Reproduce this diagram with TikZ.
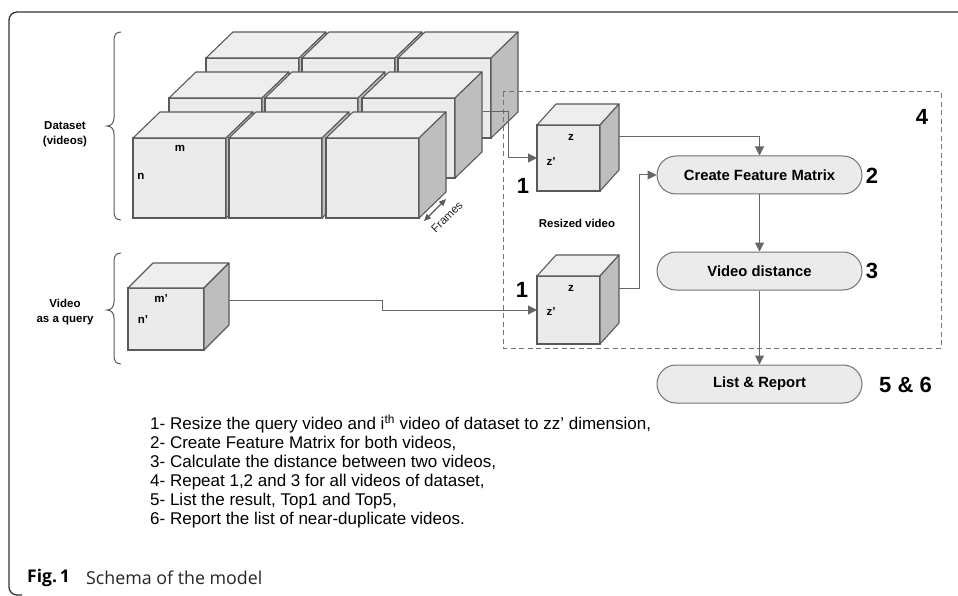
\documentclass[tikz,border=0pt]{standalone}
\usepackage{fontspec}
\setmainfont{Liberation Sans}
\newfontfamily\listfont{Liberation Sans}
\newfontfamily\capfont{Open Sans}
\usetikzlibrary{arrows.meta,calc}

\definecolor{edge}{HTML}{5A5A5A}
\definecolor{facefront}{HTML}{EBEBEB}
\definecolor{facetop}{HTML}{EEEEEE}
\definecolor{faceside}{HTML}{BEBEBE}
\definecolor{wire}{HTML}{666666}

\tikzset{
  cubeface/.style={draw=edge, fill=facefront, line width=1.1pt, inner sep=0pt, outer sep=0pt},
  cubetop/.style={draw=edge, fill=facetop, line width=1.1pt, line join=round},
  cubeside/.style={draw=edge, fill=faceside, line width=1.1pt, line join=round},
  arr/.style={draw=wire, line width=1pt, -{Triangle[length=9pt,width=9pt]}},
  stadium/.style={draw=edge!85, fill=facefront, line width=1pt, rounded corners=19pt,
    minimum width=205pt, minimum height=38pt, inner sep=0pt,
    font=\bfseries\fontsize{14.8}{17}\selectfont},
  tag/.style={font=\bfseries\fontsize{22}{24}\selectfont, inner sep=0pt},
  dimlabel/.style={font=\bfseries\fontsize{11.5}{13}\selectfont, inner sep=0pt},
  sidetext/.style={font=\bfseries\fontsize{11.5}{15}\selectfont, align=center, inner sep=0pt},
  bracepath/.style={draw=edge, line width=1pt},
  listline/.style={anchor=west, inner sep=0pt, font=\listfont\fontsize{17}{19}\selectfont},
}

% video volume: name, x, y (top of front face), width, height, depth dx, depth dy
\newcommand\vidcube[7]{%
  \node[cubeface, minimum width=#4pt, minimum height=#5pt, anchor=north west] (#1) at (#2,#3) {};
  \path[cubetop] (#1.north west) -- ++(#6,-#7) -- ++(#4,0) -- (#1.north east) -- cycle;
  \path[cubeside] (#1.north east) -- ++(#6,-#7) -- ++(0,#5) -- (#1.south east) -- cycle;
}

\begin{document}
\begin{tikzpicture}[x=1pt,y=-1pt]
\useasboundingbox (0,0) rectangle (958,596);
\fill[white] (0,0) rectangle (958,596);

% figure frame
\draw[line width=1.3pt, black!80, rounded corners=8pt] (960,12) -- (9,12) -- (9,595) -- (22,595);

% dataset: three rows of three videos
\vidcube{b1}{206}{58}{93}{80}{27}{26}
\vidcube{b2}{302}{58}{93}{80}{27}{26}
\vidcube{b3}{398}{58}{93}{80}{27}{26}
\vidcube{c1}{169}{98}{93}{80}{27}{26}
\vidcube{c2}{265}{98}{93}{80}{27}{26}
\vidcube{c3}{362}{98}{93}{80}{27}{26}
\vidcube{f1}{133}{138}{93}{80}{27}{26}
\vidcube{f2}{229}{138}{93}{80}{27}{26}
\vidcube{f3}{326}{138}{93}{80}{27}{26}

\node[dimlabel] (lm) at (180,148) {m};
\node[dimlabel] (ln) at (141,176) {n};

% frames axis
\coordinate (fa) at (424,221);
\coordinate (fb) at (446,199);
\draw[edge, line width=1.2pt, {Triangle[length=7pt,width=6pt]}-{Triangle[length=7pt,width=6pt]}] (fa) -- (fb);
\node[rotate=45, font=\fontsize{11.5}{13}\selectfont, text=black!85, inner sep=0pt] (frames) at (447,217) {Frames};

% braces and side captions
\draw[bracepath] (121,32) .. controls (116,32) and (114,35) .. (114,40) -- (114,118)
  .. controls (114,123) and (111,126) .. (107,126)
  .. controls (111,126) and (114,129) .. (114,134) -- (114,212)
  .. controls (114,217) and (116,220) .. (121,220);
\node[sidetext] (dstext) at (65,134.5) {Dataset\\(videos)};

\draw[bracepath] (121,253) .. controls (116,253) and (114,256) .. (114,261) -- (114,302)
  .. controls (114,307) and (111,310) .. (107,310)
  .. controls (111,310) and (114,313) .. (114,318) -- (114,356)
  .. controls (114,361) and (116,364) .. (121,364);
\node[sidetext] (qtext) at (65,312) {Video\\as a query};

% query video
\vidcube{qv}{128}{288}{76}{62}{25}{25}
\node[dimlabel] (lmq) at (161,299) {m’};
\node[dimlabel] (lnq) at (143,320) {n’};

% repeat region
\draw[wire!90, line width=1pt, dash pattern=on 5pt off 3.5pt] (503,92) rectangle (941,348);
\node[tag] (t4) at (922,117) {4};

% resized videos
\vidcube{rz1}{537}{125}{63}{66}{19}{21}
\node[dimlabel] (z1) at (571,137) {z};
\node[dimlabel] (zp1) at (551,162) {z’};
\node[tag] (t1a) at (523,186) {1};

\node[font=\bfseries\fontsize{11.4}{13}\selectfont] (rsz) at (577,223) {Resized video};

\vidcube{rz2}{537}{276}{63}{68}{19}{21}
\node[dimlabel] (z2) at (571,288) {z};
\node[dimlabel] (zp2) at (551,312) {z’};
\node[tag] (t1b) at (522,290) {1};

% processing steps
\node[stadium] (cfm) at (759.5,175) {Create Feature Matrix};
\node[tag] (t2) at (872,176) {2};
\node[stadium] (vd) at (759.5,271) {Video distance};
\node[tag] (t3) at (872,271) {3};
\node[stadium] (lr) at (759.5,384) {List \& Report};
\node[tag, anchor=west] (t56) at (879,385) {5 \& 6};

% connectors
\coordinate (dsout) at (483,112);
\draw[arr] (dsout) -- ++(25,0) |- (rz1.west);
\coordinate (qout) at (229,300);
\draw[arr] (qout) -- ++(153,0) |- (rz2.west);
\coordinate (rz1out) at (619,137);
\draw[arr] (rz1out) -| (cfm.north);
\coordinate (rz2out) at (619,288);
\draw[arr] (rz2out) -- ++(20,0) |- (cfm.west);
\draw[arr] (cfm.south) -- (vd.north);
\draw[arr] (vd.south) -- (lr.north);

% step list
\node[listline] (s1) at (150,424) {1- Resize the query video and i\textsuperscript{th} video of dataset to zz’ dimension,};
\node[listline] (s2) at (150,443.3) {2- Create Feature Matrix for both videos,};
\node[listline] (s3) at (150,462.6) {3- Calculate the distance between two videos,};
\node[listline] (s4) at (150,481.9) {4- Repeat 1,2 and 3 for all videos of dataset,};
\node[listline] (s5) at (150,501.2) {5- List the result, Top1 and Top5,};
\node[listline] (s6) at (150,520.5) {6- Report the list of near-duplicate videos.};

% caption
\node[anchor=west, inner sep=0pt, font=\capfont\bfseries\fontsize{17.5}{20}\selectfont] (figno) at (27,578) {Fig.\,1};
\node[anchor=west, inner sep=0pt, font=\capfont\fontsize{17.8}{20}\selectfont, text=black!85] (figcap) at (86,578) {Schema of the model};
\end{tikzpicture}
\end{document}
